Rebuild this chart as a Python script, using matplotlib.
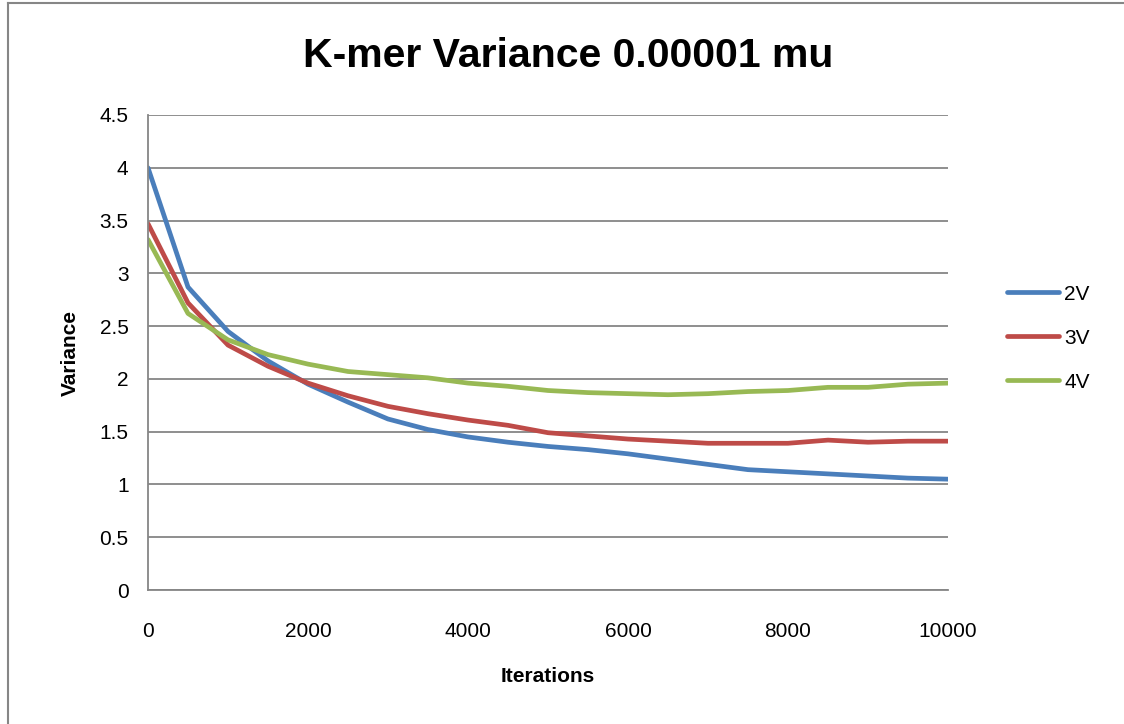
import matplotlib.pyplot as plt
from matplotlib.lines import Line2D

plt.rcParams['font.family'] = ['Liberation Sans', 'DejaVu Sans']

# iteration counts (sampled every 500)
iterations = [0, 500, 1000, 1500, 2000, 2500, 3000, 3500, 4000, 4500, 5000,
              5500, 6000, 6500, 7000, 7500, 8000, 8500, 9000, 9500, 10000]

var_2v = [4.00, 2.87, 2.45, 2.17, 1.95, 1.78, 1.62, 1.52, 1.45, 1.40, 1.36,
          1.33, 1.29, 1.24, 1.19, 1.14, 1.12, 1.10, 1.08, 1.06, 1.05]
var_3v = [3.47, 2.72, 2.32, 2.12, 1.96, 1.84, 1.74, 1.67, 1.61, 1.56, 1.49,
          1.46, 1.43, 1.41, 1.39, 1.39, 1.39, 1.42, 1.40, 1.41, 1.41]
var_4v = [3.32, 2.62, 2.37, 2.23, 2.14, 2.07, 2.04, 2.01, 1.96, 1.93, 1.89,
          1.87, 1.86, 1.85, 1.86, 1.88, 1.89, 1.92, 1.92, 1.95, 1.96]

series = [('2V', var_2v, '#4A7EBB'),
          ('3V', var_3v, '#BE4B48'),
          ('4V', var_4v, '#98B954')]

fig = plt.figure(figsize=(11.24, 7.24), dpi=100, facecolor='white')
ax = fig.add_axes([148 / 1124, 1 - 590 / 724, 800 / 1124, 475 / 724])

for name, vals, col in series:
    ax.plot(iterations, vals, color=col, linewidth=3.4,
            solid_capstyle='round', solid_joinstyle='round', label=name)

ax.set_xlim(0, 10000)
ax.set_ylim(0, 4.5)
ax.set_xticks([0, 2000, 4000, 6000, 8000, 10000])
ax.set_yticks([0, 0.5, 1, 1.5, 2, 2.5, 3, 3.5, 4, 4.5])
ax.set_yticklabels(['0', '0.5', '1', '1.5', '2', '2.5', '3', '3.5', '4', '4.5'])
ax.tick_params(axis='both', length=0, labelsize=15)
ax.tick_params(axis='x', pad=23)
ax.tick_params(axis='y', pad=14)

ax.grid(True, axis='y', color='#868686', linewidth=1.3)
ax.set_axisbelow(True)
for side in ['top', 'right']:
    ax.spines[side].set_visible(False)
for side in ['left', 'bottom']:
    ax.spines[side].set_color('#868686')
    ax.spines[side].set_linewidth(1.3)

ax.set_xlabel('Iterations', fontsize=15, fontweight='bold', labelpad=19)
ax.set_ylabel('Variance', fontsize=15, fontweight='bold', labelpad=14)

fig.text(568 / 1124, 1 - 56 / 724, 'K-mer Variance 0.00001 mu',
         fontsize=29.5, fontweight='bold', ha='center', va='center')

# legend on the right
handles = [Line2D([0], [0], color=col, linewidth=3.4, solid_capstyle='round')
           for _, _, col in series]
fig.legend(handles, [s[0] for s in series], loc='center left',
           bbox_to_anchor=(988 / 1124, 1 - 338 / 724), frameon=False,
           fontsize=15, handlelength=2.5, handletextpad=0.25, labelspacing=1.2)

# chart border
fig.add_artist(Line2D([8 / 1124, 1], [1 - 3 / 724, 1 - 3 / 724],
                      transform=fig.transFigure, color='#868686', linewidth=1.5))
fig.add_artist(Line2D([8 / 1124, 8 / 1124], [0, 1 - 3 / 724],
                      transform=fig.transFigure, color='#868686', linewidth=1.5))

fig.savefig('out.png', dpi=100, facecolor='white')
